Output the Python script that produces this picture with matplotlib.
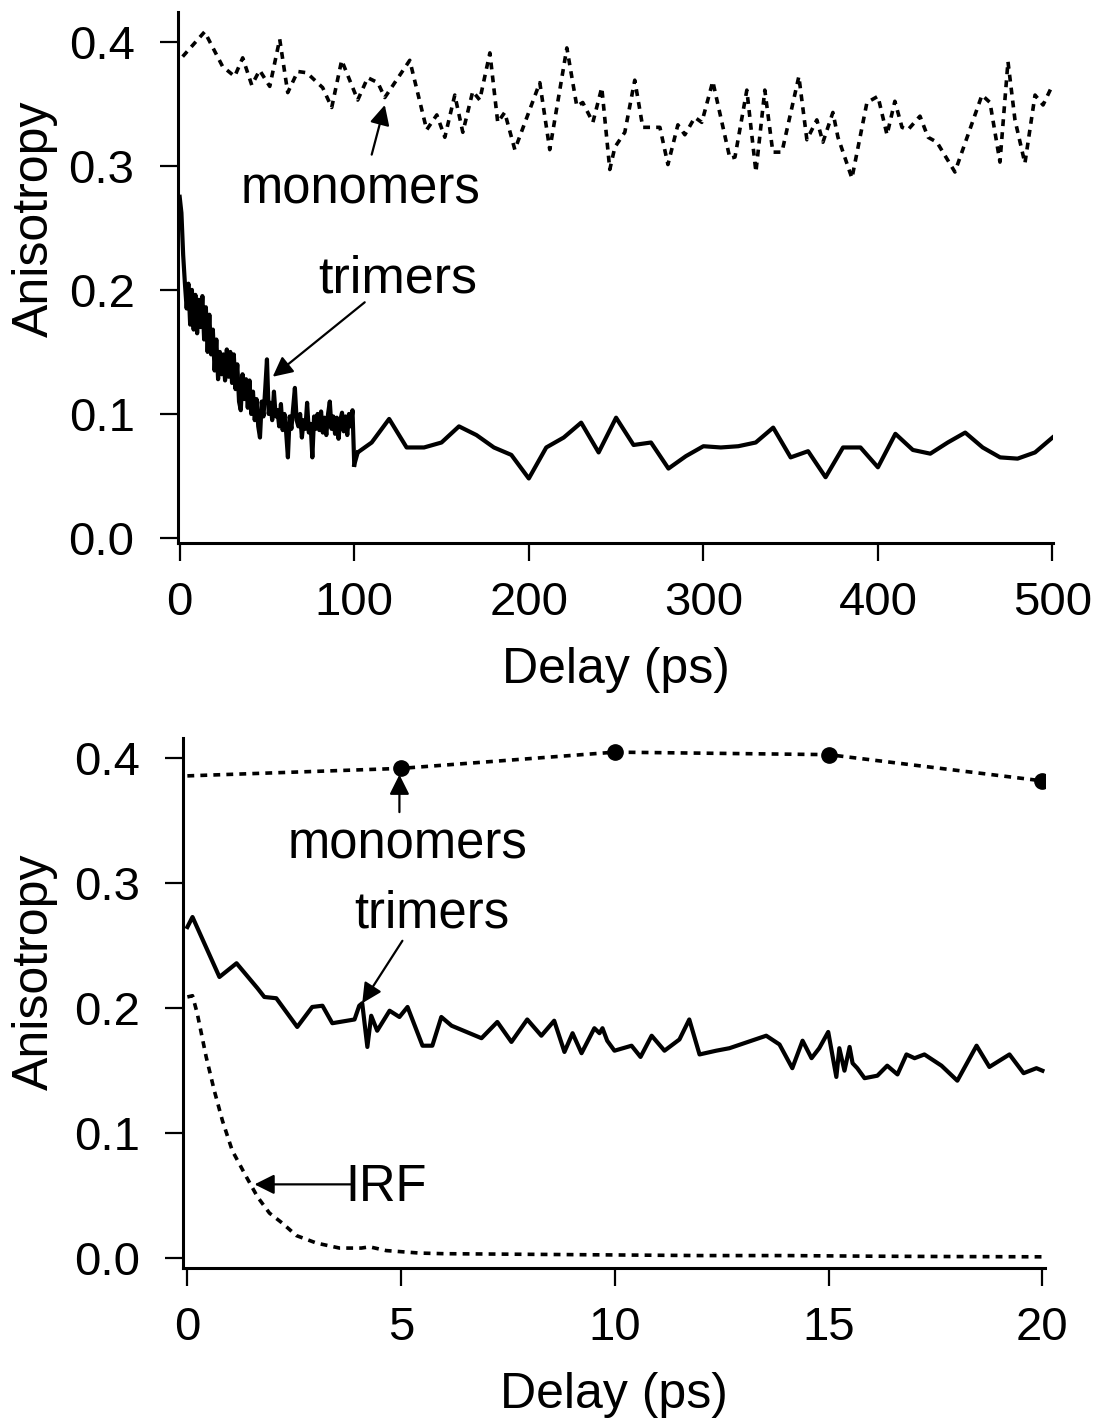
import numpy as np
import matplotlib
matplotlib.use("Agg")
import matplotlib.pyplot as plt

plt.rcParams['font.family'] = ['Liberation Sans', 'DejaVu Sans']

# ---------------- Top panel data (0-500 ps) ----------------
mono_top_x = [1.7, 14.3, 24.6, 31.5, 36.1, 41.3, 45.8, 51.6, 57.3, 61.9, 67.6, 72.8, 81.9, 87.1,
              92.8, 102.0, 107.7, 113.5, 117.5, 131.8, 141.5, 147.3, 151.9, 157.6, 162.2, 167.9,
              171.9, 177.7, 182.2, 186.2, 192.0, 206.3, 212.0, 221.8, 227.5, 230.9, 236.7, 241.8,
              246.4, 249.3, 255.0, 260.7, 265.3, 275.1, 279.7, 285.4, 289.4, 295.1, 299.1, 305.4,
              315.2, 318.1, 324.9, 330.1, 335.2, 339.8, 345.0, 354.7, 359.3, 365.0, 368.5, 374.2,
              377.1, 385.1, 393.7, 400.0, 405.2, 409.7, 413.8, 417.2, 424.1, 428.7, 433.8, 444.1,
              459.6, 464.2, 469.9, 474.5, 478.5, 484.2, 490.0, 494.6, 500.0]
mono_top_y = [0.388, 0.408, 0.380, 0.372, 0.387, 0.365, 0.377, 0.364, 0.402, 0.359, 0.376, 0.375,
              0.363, 0.347, 0.385, 0.353, 0.371, 0.367, 0.355, 0.385, 0.329, 0.341, 0.323, 0.357,
              0.327, 0.360, 0.353, 0.391, 0.335, 0.343, 0.313, 0.367, 0.313, 0.395, 0.348, 0.351,
              0.335, 0.363, 0.297, 0.315, 0.327, 0.369, 0.331, 0.331, 0.301, 0.333, 0.325, 0.339,
              0.335, 0.368, 0.306, 0.307, 0.361, 0.295, 0.361, 0.311, 0.311, 0.372, 0.321, 0.337,
              0.319, 0.343, 0.323, 0.290, 0.351, 0.356, 0.325, 0.352, 0.331, 0.329, 0.340, 0.323,
              0.319, 0.295, 0.357, 0.351, 0.303, 0.384, 0.337, 0.302, 0.357, 0.349, 0.365]

trim_dense_x = list(range(0, 101))
trim_dense_y = [0.275, 0.262, 0.228, 0.205, 0.185, 0.205, 0.172, 0.200, 0.168, 0.196,
                0.165, 0.192, 0.170, 0.195, 0.160, 0.186, 0.150, 0.180, 0.148, 0.168,
                0.135, 0.160, 0.128, 0.150, 0.132, 0.148, 0.127, 0.152, 0.130, 0.150,
                0.125, 0.148, 0.120, 0.140, 0.110, 0.103, 0.132, 0.112, 0.128, 0.105,
                0.127, 0.100, 0.118, 0.095, 0.112, 0.090, 0.081, 0.110, 0.098, 0.120,
                0.144, 0.100, 0.109, 0.095, 0.118, 0.098, 0.103, 0.090, 0.108, 0.087,
                0.100, 0.085, 0.065, 0.098, 0.088, 0.105, 0.121, 0.095, 0.090, 0.100,
                0.081, 0.095, 0.088, 0.109, 0.085, 0.092, 0.065, 0.098, 0.088, 0.100,
                0.087, 0.102, 0.085, 0.097, 0.083, 0.100, 0.110, 0.088, 0.098, 0.084,
                0.097, 0.080, 0.095, 0.101, 0.086, 0.098, 0.083, 0.100, 0.090, 0.103,
                0.059]
trim_sparse_x = [102, 110, 120, 130, 140, 150, 160, 170, 180, 190, 200, 210, 220, 230, 240,
                 250, 260, 270, 280, 290, 300, 310, 320, 330, 340, 350, 360, 370, 380, 390,
                 400, 410, 420, 430, 440, 450, 460, 470, 480, 490, 500]
trim_sparse_y = [0.069, 0.077, 0.096, 0.073, 0.073, 0.077, 0.090, 0.083, 0.073, 0.067, 0.048,
                 0.073, 0.081, 0.093, 0.069, 0.097, 0.075, 0.077, 0.056, 0.066, 0.074, 0.073,
                 0.074, 0.077, 0.089, 0.065, 0.070, 0.049, 0.073, 0.073, 0.057, 0.084, 0.071,
                 0.068, 0.077, 0.085, 0.073, 0.065, 0.064, 0.069, 0.081]

top_xticks = [0, 100, 200, 300, 400, 500]
yticks = [0.0, 0.1, 0.2, 0.3, 0.4]
ytick_labels = ["0.0", "0.1", "0.2", "0.3", "0.4"]

# ---------------- Bottom panel data (0-20 ps) ----------------
mono_bot_x = [0.0, 5.0, 10.0, 15.0, 20.0]
mono_bot_y = [0.386, 0.392, 0.405, 0.403, 0.382]
mono_bot_marker_x = [5.0, 10.0, 15.0, 20.0]
mono_bot_marker_y = [0.392, 0.405, 0.403, 0.382]

trim_bot_x = [0.0, 0.12, 0.75, 1.15, 1.64, 1.80, 2.08, 2.57, 2.92, 3.16, 3.39, 3.91, 4.02, 4.09,
              4.21, 4.30, 4.44, 4.73, 4.96, 5.15, 5.50, 5.73, 5.94, 6.18, 6.88, 7.25, 7.58, 7.95,
              8.28, 8.58, 8.82, 9.01, 9.22, 9.52, 9.64, 9.71, 9.82, 9.99, 10.39, 10.60, 10.86,
              11.16, 11.51, 11.74, 11.98, 12.37, 12.68, 13.54, 13.85, 14.15, 14.39, 14.60, 14.78,
              14.99, 15.18, 15.25, 15.37, 15.49, 15.56, 15.67, 15.84, 16.14, 16.37, 16.61, 16.82,
              17.01, 17.24, 17.64, 18.01, 18.46, 18.76, 19.23, 19.56, 19.86, 20.0]
trim_bot_y = [0.265, 0.273, 0.225, 0.236, 0.216, 0.209, 0.208, 0.185, 0.201, 0.202, 0.188, 0.191,
              0.202, 0.204, 0.169, 0.194, 0.182, 0.198, 0.193, 0.201, 0.170, 0.170, 0.193, 0.186,
              0.176, 0.189, 0.173, 0.191, 0.178, 0.190, 0.165, 0.180, 0.164, 0.184, 0.180, 0.184,
              0.174, 0.166, 0.170, 0.161, 0.178, 0.166, 0.175, 0.191, 0.163, 0.166, 0.168, 0.178,
              0.171, 0.152, 0.174, 0.160, 0.168, 0.181, 0.145, 0.168, 0.150, 0.169, 0.156, 0.152,
              0.144, 0.146, 0.154, 0.147, 0.163, 0.160, 0.163, 0.154, 0.142, 0.170, 0.153, 0.163,
              0.148, 0.152, 0.150]

irf_x = [0.0, 0.12, 0.23, 0.44, 0.63, 0.82, 1.05, 1.38, 1.64, 1.92, 2.22, 2.55, 3.02, 3.56,
         4.07, 4.26, 4.65, 5.43, 6.0, 8.0, 10.0, 12.0, 14.0, 16.0, 18.0, 20.0]
irf_y = [0.209, 0.210, 0.196, 0.161, 0.134, 0.110, 0.086, 0.065, 0.049, 0.036, 0.028, 0.018,
         0.012, 0.008, 0.008, 0.009, 0.006, 0.004, 0.0035, 0.003, 0.0025, 0.002, 0.002, 0.0015,
         0.0012, 0.001]

bot_xticks = [0, 5, 10, 15, 20]

# ---------------- Figure ----------------
fig = plt.figure(figsize=(11.03, 14.20), dpi=100)
ax1 = fig.add_axes([0.161, 0.6176, 0.794, 0.374])
ax2 = fig.add_axes([0.166, 0.107, 0.781, 0.373])

LW = 3.0
DLW = 2.6
DASH = (0, (1.9, 1.7))
TICKFS = 34
LABFS = 36
ANNFS = 36.5
arrow_kw = dict(arrowstyle='-|>', lw=1.6, color='k', mutation_scale=30,
                shrinkA=0, shrinkB=0)

# top panel
ax1.plot(mono_top_x, mono_top_y, color='k', lw=DLW, ls=DASH)
ax1.plot(trim_dense_x, trim_dense_y, color='k', lw=LW)
ax1.plot(trim_sparse_x, trim_sparse_y, color='k', lw=LW)
ax1.plot([trim_dense_x[-1], trim_sparse_x[0]], [trim_dense_y[-1], trim_sparse_y[0]],
         color='k', lw=LW)
ax1.set_xlim(-1.2, 500.5)
ax1.set_ylim(-0.004, 0.424)
ax1.set_xticks(top_xticks)
ax1.set_xticklabels([str(v) for v in top_xticks])
ax1.set_yticks(yticks)
ax1.set_yticklabels(ytick_labels)
ax1.set_xlabel("Delay (ps)", fontsize=LABFS, labelpad=16)
ax1.set_ylabel("Anisotropy", fontsize=LABFS)
ax1.yaxis.set_label_coords(-0.137, 0.61)
ax1.text(103.7, 0.270, "monomers", fontsize=ANNFS, ha='center', va='baseline')
ax1.annotate('', xy=(117.5, 0.349), xytext=(110, 0.309), arrowprops=arrow_kw)
ax1.text(125, 0.198, "trimers", fontsize=37.5, ha='center', va='baseline')
ax1.annotate('', xy=(53.3, 0.130), xytext=(106, 0.190), arrowprops=arrow_kw)

# bottom panel
ax2.plot(mono_bot_x, mono_bot_y, color='k', lw=DLW, ls=DASH)
ax2.plot(mono_bot_marker_x, mono_bot_marker_y, 'o', color='k', ms=11)
ax2.plot(trim_bot_x, trim_bot_y, color='k', lw=LW)
ax2.plot(irf_x, irf_y, color='k', lw=DLW, ls=DASH)
ax2.set_xlim(-0.1, 20.05)
ax2.set_ylim(-0.008, 0.416)
ax2.set_xticks(bot_xticks)
ax2.set_xticklabels([str(v) for v in bot_xticks])
ax2.set_yticks(yticks)
ax2.set_yticklabels(ytick_labels)
ax2.set_xlabel("Delay (ps)", fontsize=LABFS, labelpad=16)
ax2.set_ylabel("Anisotropy", fontsize=LABFS)
ax2.yaxis.set_label_coords(-0.145, 0.56)
ax2.text(5.15, 0.320, "monomers", fontsize=ANNFS, ha='center', va='baseline')
ax2.annotate('', xy=(4.96, 0.387), xytext=(4.96, 0.357), arrowprops=arrow_kw)
ax2.text(5.71, 0.265, "trimers", fontsize=ANNFS, ha='center', va='baseline')
ax2.annotate('', xy=(4.09, 0.204), xytext=(5.03, 0.254), arrowprops=arrow_kw)
ax2.text(4.66, 0.046, "IRF", fontsize=ANNFS, ha='center', va='baseline')
ax2.annotate('', xy=(1.57, 0.059), xytext=(3.86, 0.059), arrowprops=arrow_kw)

for ax in (ax1, ax2):
    ax.spines['top'].set_visible(False)
    ax.spines['right'].set_visible(False)
    ax.spines['left'].set_linewidth(2.2)
    ax.spines['bottom'].set_linewidth(2.2)
    ax.tick_params(axis='both', direction='out', length=13, width=1.6,
                   labelsize=TICKFS)
    ax.tick_params(axis='y', pad=18)
    ax.tick_params(axis='x', pad=14)

fig.savefig("out.png", dpi=100)
